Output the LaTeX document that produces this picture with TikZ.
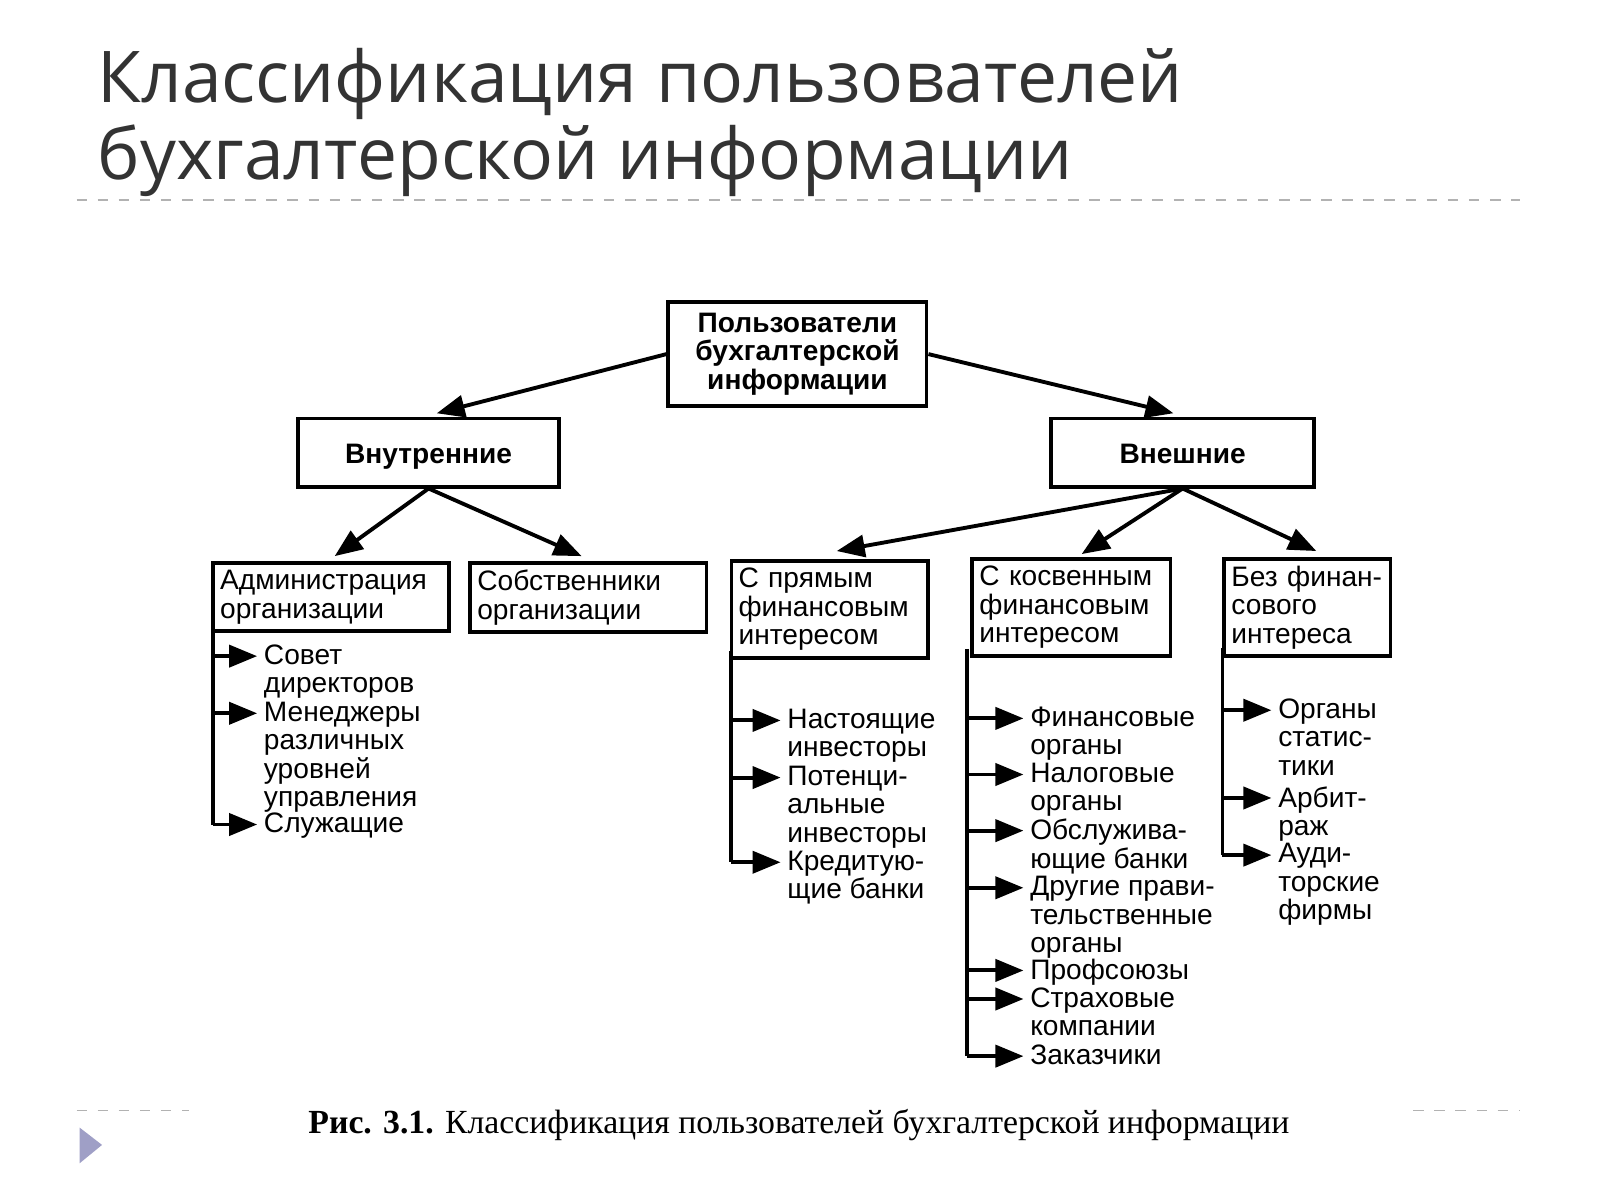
\documentclass[tikz,border=0pt]{standalone}
\usepackage{fontspec}
\setmainfont{Liberation Sans}
\newfontfamily\titlefont{Open Sans}
\newfontfamily\capfont{Liberation Serif}
\usetikzlibrary{arrows.meta, calc, positioning}
\tikzset{
  box/.style={draw, line width=1.1pt, inner sep=2pt, font=\fontsize{8}{8.1}\selectfont},
  item/.style={align=left, inner sep=0pt, anchor=north west, font=\fontsize{8}{8.1}\selectfont},
  arr/.style={line width=1.1pt, -{Triangle[length=2.8mm,width=2.2mm]}},
  tr/.style={line width=1.1pt}
}
\begin{document}
\begin{tikzpicture}[x=0.102mm, y=-0.102mm]
\useasboundingbox (0,0) rectangle (1568,1176);
% title
\node[anchor=west, inner sep=0pt, align=left, font=\titlefont\fontsize{20.3}{22}\selectfont, text=black!80] (title) at (95,120)
  {Классификация пользователей\\бухгалтерской информации};
\draw[gray!60, dashed] (75,196) -- (1490,196);
% top levels
\node[box, minimum width=25.8mm, minimum height=10.4mm, align=center, font=\bfseries\fontsize{8}{8.1}\selectfont] (all) at (781.5,347) {Пользователи\\бухгалтерской\\информации};
\node[box, minimum width=26.1mm, minimum height=6.8mm, text height=1.6ex, text depth=0.4ex, font=\bfseries\fontsize{8}{8.1}\selectfont] (vn) at (420,443.5) {Внутренние};
\node[box, minimum width=26.3mm, minimum height=6.8mm, text height=1.6ex, text depth=0.4ex, font=\bfseries\fontsize{8}{8.1}\selectfont] (ex) at (1159,443.5) {Внешние};
\draw[arr] (all.west) -- (428,405);
\draw[arr] (all.east) -- (1150,405);
% second row
\node[box, minimum width=23.6mm, minimum height=6.6mm, anchor=north west, align=left, text width=22.2mm] (adm) at (207,550) {Администрация\\организации};
\node[box, minimum width=23.6mm, minimum height=6.6mm, anchor=north west, align=left, text width=22.2mm] (own) at (459,550) {Собственники\\организации};
\node[box, minimum width=19.4mm, minimum height=9.2mm, anchor=north west, align=left, text width=18.2mm] (dir) at (715,548) {С прямым\\финансовым\\интересом};
\node[box, minimum width=19.6mm, minimum height=9.2mm, anchor=north west, align=left, text width=18.4mm] (ind) at (951,546) {С косвенным\\финансовым\\интересом};
\node[box, minimum width=16.4mm, minimum height=9.1mm, anchor=north west, align=left, text width=15.2mm] (non) at (1198,546) {Без финан-\\сового\\интереса};
\draw[arr] (vn.south) -- (328,545);
\draw[arr] (vn.south) -- (570,545);
\draw[arr] (ex.south) -- (820,540);
\draw[arr] (ex.south) -- (1060,543);
\draw[arr] (ex.south) -- (1290,540);
% lists
\node[item] (a1) at (258,631) {Совет\\директоров};
\node[item] (a2) at (258,687) {Менеджеры\\различных\\уровней\\управления};
\node[item] (a3) at (258,796) {Служащие};
\node[item] (d1) at (771,694) {Настоящие\\инвесторы};
\node[item] (d2) at (771,750) {Потенци-\\альные\\инвесторы};
\node[item] (d3) at (771,833) {Кредитую-\\щие банки};
\node[item] (i1) at (1009,692) {Финансовые\\органы};
\node[item] (i2) at (1009,747) {Налоговые\\органы};
\node[item] (i3) at (1009,802) {Обслужива-\\ющие банки};
\node[item] (i4) at (1009,858) {Другие прави-\\тельственные\\органы};
\node[item] (i5) at (1009,939) {Профсоюзы};
\node[item] (i6) at (1009,967) {Страховые\\компании};
\node[item] (i7) at (1009,1023) {Заказчики};
\node[item] (n1) at (1252,684) {Органы\\статис-\\тики};
\node[item] (n2) at (1252,770) {Арбит-\\раж};
\node[item] (n3) at (1252,826) {Ауди-\\торские\\фирмы};
\coordinate (ta) at (209,615);
\coordinate (td) at (716,638);
\coordinate (ti) at (948,636);
\coordinate (tn) at (1198,635);
\draw[tr] (ta) -- (209,808);
\draw[tr] (td) -- (716,845);
\draw[tr] (ti) -- (948,1035);
\draw[tr] (tn) -- (1198,838);
\foreach \n/\t in {a1/ta,a2/ta,a3/ta,d1/td,d2/td,d3/td,i1/ti,i2/ti,i3/ti,i4/ti,i5/ti,i6/ti,i7/ti,n1/tn,n2/tn,n3/tn}{
  \coordinate (p) at ($(\n.north west)+(0,12)$);
  \draw[arr] (p -| \t) -- ($(p)+(-6,0)$);
}
% caption
\draw[gray!60, dashed] (75,1088) -- (185,1088);
\draw[gray!60, dashed] (1385,1088) -- (1490,1088);
\node[font=\capfont\fontsize{9.6}{11}\selectfont] (cap) at (783,1103) {\textbf{Рис. 3.1.} Классификация пользователей бухгалтерской информации};
\fill[blue!25!gray!60] (78,1105) -- (100,1122) -- (78,1140) -- cycle;
\end{tikzpicture}
\end{document}
